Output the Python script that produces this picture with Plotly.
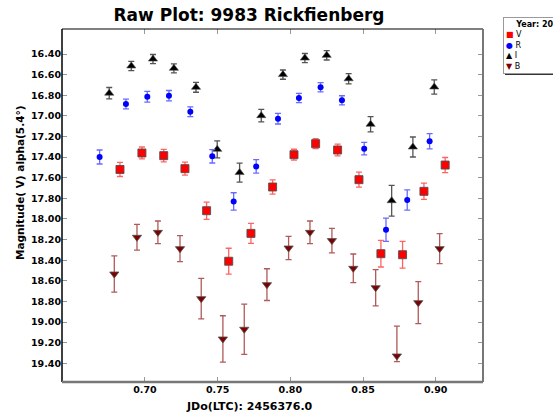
import plotly.graph_objects as go

# ---- data ----
jd_V = [0.6828, 0.6979, 0.7129, 0.7275, 0.7424, 0.7576, 0.7729, 0.7878,
        0.8025, 0.8174, 0.8325, 0.8472, 0.8623, 0.8772, 0.8919, 0.9065]
mag_V = [17.52, 17.36, 17.386, 17.512, 17.92, 18.41, 18.14, 17.69,
         17.377, 17.27, 17.331, 17.619, 18.337, 18.347, 17.732, 17.477]
err_V = [0.068, 0.058, 0.061, 0.063, 0.084, 0.126, 0.097, 0.070,
         0.053, 0.048, 0.057, 0.073, 0.129, 0.129, 0.079, 0.073]

jd_R = [0.6688, 0.6869, 0.7016, 0.7165, 0.7312, 0.7463, 0.7610, 0.7765,
        0.7915, 0.8059, 0.8208, 0.8355, 0.8508, 0.8658, 0.8804, 0.8958]
mag_R = [17.399, 16.885, 16.814, 16.804, 16.96, 17.392, 17.83, 17.49,
         17.027, 16.827, 16.723, 16.849, 17.318, 18.104, 17.816, 17.247]
err_R = [0.068, 0.048, 0.052, 0.050, 0.048, 0.065, 0.084, 0.065,
         0.052, 0.045, 0.045, 0.044, 0.060, 0.113, 0.099, 0.074]

jd_I = [0.6754, 0.6906, 0.7055, 0.7199, 0.7351, 0.7497, 0.7651, 0.7800,
        0.7949, 0.8100, 0.8250, 0.8401, 0.8552, 0.8697, 0.8843, 0.8990]
mag_I = [16.78, 16.516, 16.449, 16.539, 16.723, 17.325, 17.55, 16.998,
         16.60, 16.439, 16.413, 16.64, 17.082, 17.823, 17.302, 16.72]
err_I = [0.055, 0.045, 0.044, 0.044, 0.048, 0.082, 0.092, 0.061,
         0.045, 0.044, 0.045, 0.050, 0.074, 0.149, 0.097, 0.070]

jd_B = [0.6789, 0.6945, 0.7089, 0.7241, 0.7387, 0.7536, 0.7683, 0.7839,
        0.7988, 0.8135, 0.8286, 0.8433, 0.8587, 0.8733, 0.8880, 0.9027]
mag_B = [18.534, 18.178, 18.13, 18.288, 18.773, 19.164, 19.07, 18.637,
         18.282, 18.13, 18.21, 18.479, 18.667, 19.329, 18.812, 18.288]
err_B_plus = [0.175, 0.125, 0.110, 0.126, 0.197, 0.225, 0.243, 0.154,
              0.113, 0.110, 0.118, 0.139, 0.176, 0.055, 0.204, 0.146]
err_B_minus = [0.175, 0.125, 0.110, 0.126, 0.197, 0.225, 0.243, 0.154,
               0.113, 0.110, 0.118, 0.139, 0.176, 0.290, 0.204, 0.146]

y_ticks = [16.4, 16.6, 16.8, 17.0, 17.2, 17.4, 17.6, 17.8, 18.0, 18.2,
           18.4, 18.6, 18.8, 19.0, 19.2, 19.4]
x_ticks = [0.70, 0.75, 0.80, 0.85, 0.90]

title_text = "Raw Plot: 9983 Rickfienberg"
x_title = "JDo(LTC): 2456376.0"
y_title = "Magnitude( V) alpha(5.4°)"
legend_title = "Year: 2013"

FONT = "DejaVu Sans, Verdana, sans-serif"

# ---- figure geometry ----
W, H = 553, 415
ML, MR, MT, MB = 62, 70, 29, 33
PW, PH = W - ML - MR, H - MT - MB


def px_x(p):
    return (p - ML) / PW


def px_y(p):
    return (H - MB - p) / PH


fig = go.Figure()


def add_series(name, xs, ys, ep, em, symbol, size, color, ecolor, lw):
    fig.add_trace(go.Scatter(
        x=xs, y=ys, mode="markers", name=name,
        marker=dict(symbol=symbol, size=size, color=color,
                    line=dict(width=lw, color="#505050")),
        error_y=dict(type="data", array=ep, arrayminus=em, symmetric=False,
                     color=ecolor, thickness=1.3, width=3),
        showlegend=False,
    ))


add_series("B", jd_B, mag_B, err_B_plus, err_B_minus, "triangle-down", 8,
           "#800000", "#B05A5A", 0.8)
add_series("I", jd_I, mag_I, err_I, err_I, "triangle-up", 8,
           "#000000", "#555555", 0.6)
add_series("R", jd_R, mag_R, err_R, err_R, "circle", 6,
           "#0000FF", "#6A6AFF", 0)
add_series("V", jd_V, mag_V, err_V, err_V, "square", 8,
           "#FF0000", "#FF6464", 0.9)

tickfont = dict(family=FONT, size=9.5, color="black", weight="bold")

fig.update_xaxes(
    range=[0.64292, 0.93253], tickvals=x_ticks, tickformat=".2f",
    ticks="inside", ticklen=5, tickwidth=1, tickcolor="#999999",
    mirror="ticks", showline=False, showgrid=False, zeroline=False,
    tickfont=tickfont,
)
fig.update_yaxes(
    range=[19.5814, 16.1575], tickvals=y_ticks, tickformat=".2f",
    ticks="inside", ticklen=5, tickwidth=1, tickcolor="#999999",
    mirror="ticks", showline=False, showgrid=False, zeroline=False,
    tickfont=tickfont,
)

shapes = [
    # frame
    dict(type="line", xref="paper", yref="paper", x0=0, x1=1, y0=1, y1=1,
         line=dict(color="black", width=1)),
    dict(type="line", xref="paper", yref="paper", x0=0, x1=0, y0=0, y1=1,
         line=dict(color="black", width=1.5)),
    dict(type="line", xref="paper", yref="paper", x0=1, x1=1, y0=0, y1=1,
         line=dict(color="#777777", width=2)),
    dict(type="line", xref="paper", yref="paper", x0=0, x1=1, y0=0, y1=0,
         line=dict(color="#777777", width=2.5)),
    # legend shadow
    dict(type="line", xref="paper", yref="paper",
         x0=px_x(505), x1=px_x(560), y0=px_y(74), y1=px_y(74),
         line=dict(color="#333333", width=2)),
]

legend_lines = [
    "&nbsp;&nbsp;&nbsp;&nbsp;<b>" + legend_title + "</b>",
    "<span style='color:#FF0000'>■</span> V",
    "<span style='color:#0000FF'>●</span> R",
    "<span style='color:#000000'>▲</span> I",
    "<span style='color:#800000'>▼</span> B",
]

annotations = [
    dict(text=x_title, xref="paper", yref="paper", x=px_x(249), y=px_y(406),
         xanchor="center", yanchor="middle", showarrow=False,
         font=dict(family=FONT, size=11, color="black", weight="bold")),
    dict(text=y_title, xref="paper", yref="paper", x=px_x(20), y=px_y(183),
         xanchor="center", yanchor="middle", showarrow=False, textangle=-90,
         font=dict(family=FONT, size=10.5, color="black", weight="bold")),
    dict(text="<br>".join(legend_lines), xref="paper", yref="paper",
         x=px_x(502.5), y=px_y(17.5), xanchor="left", yanchor="top",
         align="left", showarrow=False, bgcolor="white",
         bordercolor="#9a9a9a", borderwidth=1, borderpad=2,
         font=dict(family=FONT, size=8, color="black")),
]

fig.update_layout(
    width=W, height=H,
    margin=dict(l=ML, r=MR, t=MT, b=MB, autoexpand=False),
    paper_bgcolor="white", plot_bgcolor="white",
    title=dict(text=title_text, xref="container", yref="container",
               x=249 / W, y=1 - 15.5 / H, xanchor="center", yanchor="middle",
               font=dict(family=FONT, size=17, color="black", weight="bold")),
    shapes=shapes, annotations=annotations, showlegend=False,
)

fig.write_html(
    "out.html",
    config={"displayModeBar": False},
    post_script="document.body.style.margin='0';document.body.style.overflow='hidden';",
)
